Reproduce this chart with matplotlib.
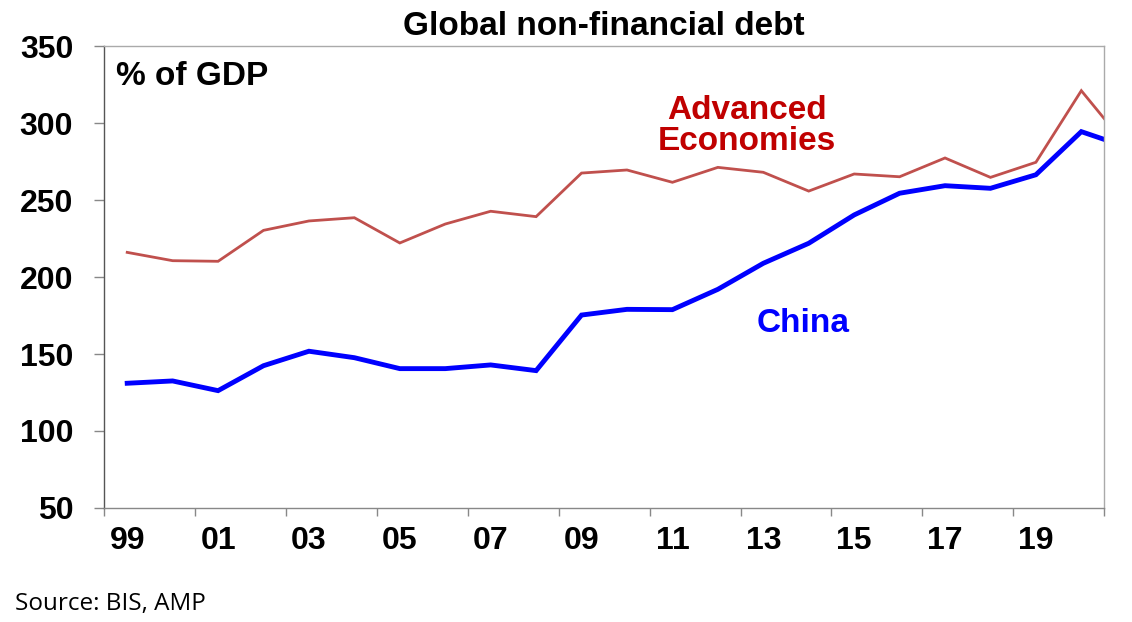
import numpy as np
import matplotlib
matplotlib.use("Agg")
import matplotlib.pyplot as plt

# annual points (mid-year), last point = latest reading at the right edge
years = [1999.5, 2000.5, 2001.5, 2002.5, 2003.5, 2004.5, 2005.5, 2006.5, 2007.5,
         2008.5, 2009.5, 2010.5, 2011.5, 2012.5, 2013.5, 2014.5, 2015.5, 2016.5,
         2017.5, 2018.5, 2019.5, 2020.5, 2021.0]
advanced = [216, 210.6, 210.2, 230.3, 236.4, 238.5, 222.1, 234.4, 242.7, 239.2,
            267.5, 269.5, 261.5, 271.2, 268, 255.8, 266.9, 265.1, 277.3, 264.7,
            274.5, 321, 303]
china = [131, 132.5, 126.2, 142.4, 151.8, 147.6, 140.5, 140.5, 142.9, 139.2,
         175.3, 179, 178.8, 192, 208.9, 221.9, 240.3, 254.4, 259.3, 257.6,
         266.4, 294.4, 289.4]
tick_labels = ["99", "01", "03", "05", "07", "09", "11", "13", "15", "17", "19"]

plt.rcParams['font.family'] = ['Liberation Sans', 'DejaVu Sans']

fig = plt.figure(figsize=(11.32, 6.22), dpi=100)
ax = fig.add_axes([0.0923, 0.1833, 0.8830, 0.7427])

ax.plot(years, advanced, color="#C0504D", lw=2.0, solid_joinstyle="miter")
ax.plot(years, china, color="#0000FF", lw=3.5, solid_joinstyle="miter")

ax.set_xlim(1999, 2021)
ax.set_ylim(50, 350)
ax.set_yticks(np.arange(50, 351, 50))
ax.set_yticklabels([str(v) for v in range(50, 351, 50)], fontsize=23, fontweight="bold")

major = np.arange(1999, 2022, 2)
ax.set_xticks(major)
ax.set_xticklabels([""] * len(major))
ax.set_xticks(np.arange(1999.5, 2020, 2), minor=True)
ax.set_xticklabels(tick_labels, minor=True, fontsize=23, fontweight="bold")
ax.tick_params(axis="x", which="major", length=6, width=1, color="#888888", direction="out")
ax.tick_params(axis="x", which="minor", length=0, pad=13)
ax.tick_params(axis="y", length=7, width=1, color="#888888", pad=15.5)

for s in ["top", "right"]:
    ax.spines[s].set_color("#AAAAAA")
ax.spines["bottom"].set_color("#888888")
ax.spines["left"].set_color("#555555")
for s in ax.spines.values():
    s.set_linewidth(1)

ax.set_title("Global non-financial debt", fontsize=24, fontweight="bold", pad=8)
ax.text(0.012, 0.933, "% of GDP", transform=ax.transAxes, fontsize=24,
        fontweight="bold", va="center", ha="left")
ax.text(2013.14, 298, "Advanced\nEconomies", color="#C00000", fontsize=24,
        fontweight="bold", ha="center", va="center", linespacing=1.0)
ax.text(2014.37, 170, "China", color="#0000FF", fontsize=24, fontweight="bold",
        ha="center", va="center")

fig.text(0.013, 0.019, "Source: BIS, AMP", fontsize=17.5, family=["Open Sans", "DejaVu Sans"])

fig.savefig("out.png", dpi=100)
